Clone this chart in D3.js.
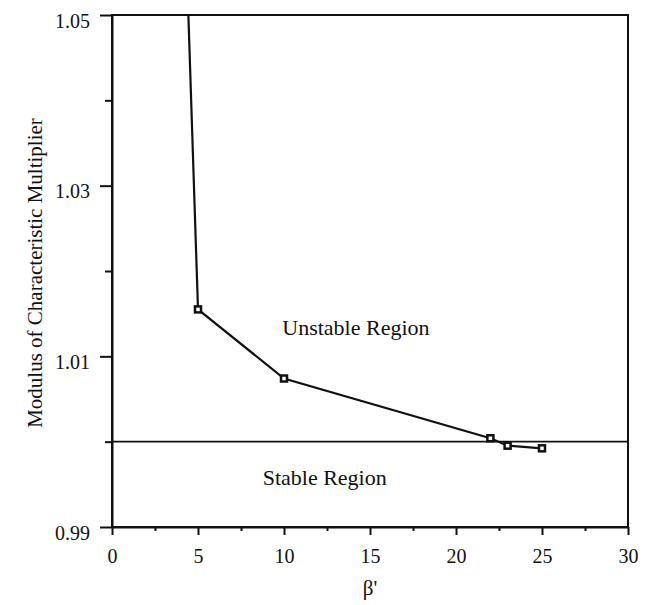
<!DOCTYPE html>
<html>
<head>
<meta charset="utf-8">
<script src="https://cdn.jsdelivr.net/npm/d3@7"></script>
<style>
  body { margin: 0; background: #fff; }
  svg text { font-family: 'Liberation Serif', 'Times New Roman', serif; fill: #111; }
</style>
</head>
<body>
<svg id="chart" width="653" height="605"></svg>
<script>
// values
const betaValues = [4.44, 5, 10, 22, 23, 25]
const modulusValues = [1.05, 1.0155, 1.0074, 1.0004, 0.99953, 0.99922]
const markerIndex = [1, 2, 3, 4, 5] // first point is just where the curve leaves the top
const xMajorTicks = [0, 5, 10, 15, 20, 25, 30]
const xMinorTicks = [2.5, 7.5, 12.5, 17.5, 22.5, 27.5]
const yMajorTicks = [0.99, 1.01, 1.03, 1.05]
const yMinorTicks = [1.0, 1.02, 1.04]
const stableLevel = 1.0
const regionLabels = [
  { text: 'Unstable Region', x: 9.9, y: 1.0125 },
  { text: 'Stable Region', x: 8.76, y: 0.99492 },
]

window.addEventListener('load', makeChart)
function makeChart() {
  const svg = d3.select('#chart')
  const left = 112,
    top = 15,
    w = 516,
    h = 512

  const scX = d3.scaleLinear().domain([0, 30]).range([left, left + w])
  const scY = d3.scaleLinear().domain([0.99, 1.05]).range([top + h, top])

  svg.append('rect').attr('width', 653).attr('height', 605).attr('fill', '#fff')

  // minor ticks first, the axes draw over them
  svg
    .append('g')
    .attr('transform', `translate(0,${top + h})`)
    .call(d3.axisBottom(scX).tickValues(xMinorTicks).tickSize(4).tickFormat(''))
    .call((g) => g.select('.domain').remove())
  svg
    .append('g')
    .attr('transform', `translate(${left},0)`)
    .call(d3.axisLeft(scY).tickValues(yMinorTicks).tickSize(7).tickFormat(''))
    .call((g) => g.select('.domain').remove())

  const xAxis = svg
    .append('g')
    .attr('transform', `translate(0,${top + h})`)
    .call(
      d3.axisBottom(scX).tickValues(xMajorTicks).tickSize(8).tickPadding(14).tickSizeOuter(0)
    )
  const yAxis = svg
    .append('g')
    .attr('transform', `translate(${left},0)`)
    .call(
      d3
        .axisLeft(scY)
        .tickValues(yMajorTicks)
        .tickSize(12)
        .tickPadding(10)
        .tickFormat(d3.format('.2f'))
        .tickSizeOuter(0)
    )

  xAxis.selectAll('text').attr('font-size', 20)
  yAxis.selectAll('text').attr('font-size', 20).attr('dy', '0.6em')
  svg.selectAll('.tick line').attr('stroke', '#111').attr('stroke-width', 2)
  svg.selectAll('.domain').attr('stroke', '#111').attr('stroke-width', 2)

  // frame
  svg
    .append('rect')
    .attr('x', left)
    .attr('y', top)
    .attr('width', w)
    .attr('height', h)
    .attr('fill', 'none')
    .attr('stroke', '#111')
    .attr('stroke-width', 2)

  // stability boundary
  svg
    .append('line')
    .attr('x1', scX(0))
    .attr('x2', scX(30))
    .attr('y1', scY(stableLevel))
    .attr('y2', scY(stableLevel))
    .attr('stroke', '#111')
    .attr('stroke-width', 1.8)

  const pts = betaValues.map((b, i) => [b, modulusValues[i]])
  const line = d3
    .line()
    .x((d) => scX(d[0]))
    .y((d) => scY(d[1]))

  svg
    .append('path')
    .datum(pts)
    .attr('d', line)
    .attr('fill', 'none')
    .attr('stroke', '#111')
    .attr('stroke-width', 2.2)

  svg
    .selectAll('rect.mark')
    .data(markerIndex.map((i) => pts[i]))
    .enter()
    .append('rect')
    .attr('class', 'mark')
    .attr('x', (d) => scX(d[0]) - 3)
    .attr('y', (d) => scY(d[1]) - 3)
    .attr('width', 6)
    .attr('height', 6)
    .attr('fill', '#fff')
    .attr('stroke', '#111')
    .attr('stroke-width', 2.5)

  svg
    .selectAll('text.region')
    .data(regionLabels)
    .enter()
    .append('text')
    .attr('class', 'region')
    .attr('x', (d) => scX(d.x))
    .attr('y', (d) => scY(d.y))
    .attr('font-size', 22)
    .text((d) => d.text)

  // axis titles
  svg
    .append('text')
    .attr('x', scX(15))
    .attr('y', 595)
    .attr('text-anchor', 'middle')
    .attr('font-size', 21)
    .text("β'")
  svg
    .append('text')
    .attr('transform', `translate(42,${273}) rotate(-90)`)
    .attr('text-anchor', 'middle')
    .attr('font-size', 21)
    .text('Modulus of Characteristic Multiplier')
}
</script>
</body>
</html>
